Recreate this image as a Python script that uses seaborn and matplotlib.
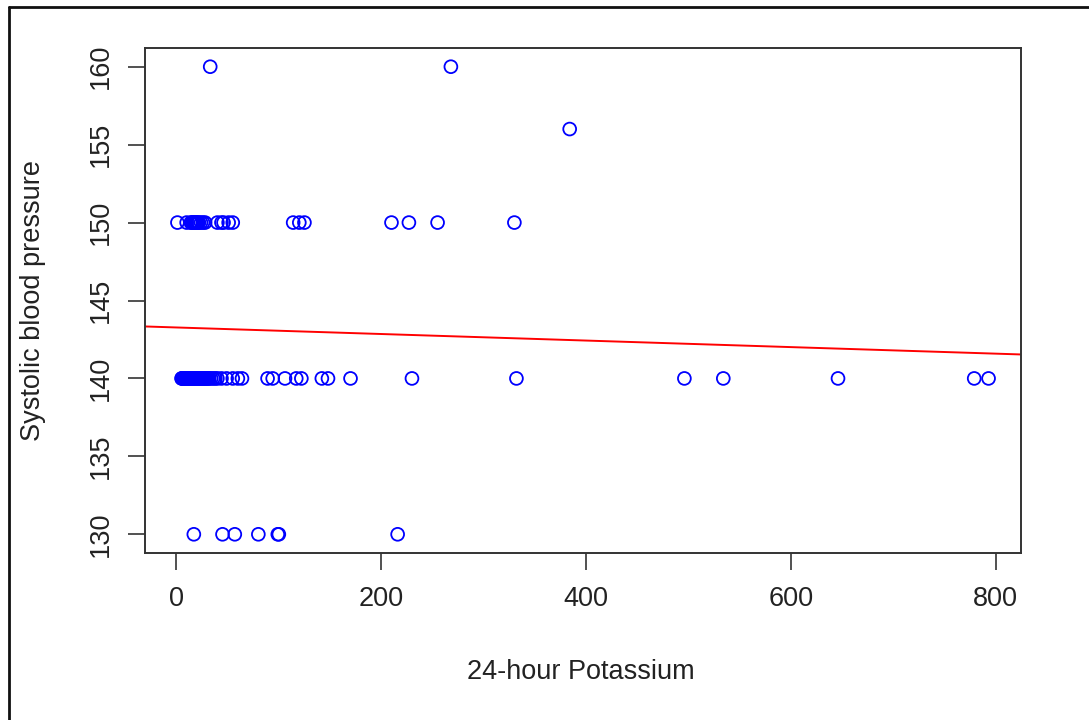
import numpy as np
import pandas as pd
import matplotlib
matplotlib.use("Agg")
import matplotlib.pyplot as plt
from matplotlib.lines import Line2D
import seaborn as sns

# ---- data ----
k_160 = [33, 268]
k_156 = [384]
k_150 = [1, 10, 14, 15, 16, 17, 18, 19, 20, 21, 22, 24, 26, 28, 40, 44, 46, 51, 55,
         114, 120, 125, 210, 227, 255, 330]
k_140 = [5, 5.5, 6, 6.5, 7, 7.5, 8, 8.5, 9, 9.5, 10, 11, 12, 13, 14, 15, 16, 17,
         18, 19, 20, 21, 22, 23, 24, 25, 26, 27, 28, 29, 30, 31, 32, 34, 36, 38, 40,
         44, 49, 55, 60, 64,
         89, 94, 106, 117, 122, 142, 148, 170, 230, 332, 496, 534, 646, 779, 793]
k_130 = [17, 45, 57, 80, 99, 100, 216]

fit_intercept = 143.27
fit_slope = -0.0021

x_ticks = [0, 200, 400, 600, 800]
y_ticks = [130, 135, 140, 145, 150, 155, 160]
x_label = "24-hour Potassium"
y_label = "Systolic blood pressure"

levels = [(160, k_160), (156, k_156), (150, k_150), (140, k_140), (130, k_130)]
df = pd.DataFrame({
    "potassium": [k for lvl, ks in levels for k in ks],
    "sbp": [lvl for lvl, ks in levels for k in ks],
})

sns.set_theme(style="white")
plt.rcParams["font.family"] = ["Liberation Sans", "DejaVu Sans"]

W, H = 1089, 720
fig = plt.figure(figsize=(W / 100, H / 100), dpi=100)
fig.patch.set_facecolor("white")
ax = fig.add_axes([145 / W, 1 - 553 / H, (1021 - 145) / W, (553 - 48) / H])

sns.scatterplot(data=df, x="potassium", y="sbp", ax=ax, marker="o",
                s=85, facecolor="none", edgecolor="#0000FF", linewidth=1.3,
                zorder=3)

ax.axline((0, fit_intercept), slope=fit_slope, color="#FF0000", lw=1.4, zorder=2)

xmin, xmax = df.potassium.min(), df.potassium.max()
xr = xmax - xmin
ax.set_xlim(xmin - 0.04 * xr, xmax + 0.04 * xr)
ax.set_ylim(130 - 0.04 * 30, 160 + 0.04 * 30)
ax.set_xticks(x_ticks)
ax.set_yticks(y_ticks)
ax.set_xticklabels([str(t) for t in x_ticks])
ax.set_yticklabels([str(t) for t in y_ticks], rotation=90, va="center")
ax.set_xlabel("")
ax.set_ylabel("")

for sp in ax.spines.values():
    sp.set_color("#333333")
    sp.set_linewidth(1.4)
    sp.set_visible(True)

ax.tick_params(axis="both", which="major", length=12.5, width=1.2,
               color="#333333", labelsize=19.5, labelcolor="#222222",
               direction="out", bottom=True, left=True)
ax.tick_params(axis="x", pad=11)
ax.tick_params(axis="y", pad=10)

fig.text(581 / W, 1 - 672 / H, x_label, ha="center", va="center",
         fontsize=19.5, color="#222222")
fig.text(33 / W, 1 - 300 / H, y_label, ha="center", va="center",
         rotation=90, fontsize=19.5, color="#222222")

# outer screenshot frame (left and top edges)
fig.add_artist(Line2D([8.5 / W, 8.5 / W], [0, 1 - 7 / H], transform=fig.transFigure,
                      color="#111111", lw=2))
fig.add_artist(Line2D([8.5 / W, 1], [1 - 7 / H, 1 - 7 / H], transform=fig.transFigure,
                      color="#111111", lw=2))

fig.savefig("out.png", dpi=100, facecolor="white")
